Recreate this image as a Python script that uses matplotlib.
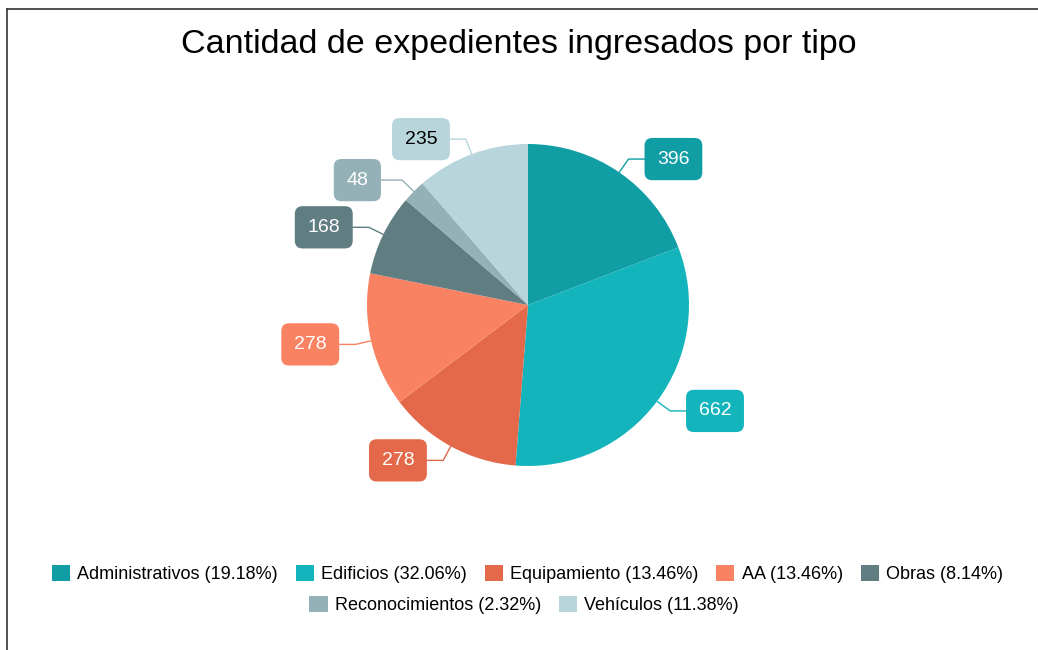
import numpy as np
import matplotlib.pyplot as plt
from matplotlib.patches import Patch
from matplotlib.lines import Line2D

plt.rcParams['font.family'] = ['Liberation Sans', 'DejaVu Sans']

categories = ['Administrativos', 'Edificios', 'Equipamiento', 'AA', 'Obras',
              'Reconocimientos', 'Vehículos']
values = [396, 662, 278, 278, 168, 48, 235]
percent_labels = ['19.18%', '32.06%', '13.46%', '13.46%', '8.14%', '2.32%', '11.38%']
colors = ['#119DA4', '#13B4BC', '#E4694A', '#F98262', '#607D82', '#93B1B6', '#B7D5DB']
text_colors = ['white', 'white', 'white', 'white', 'white', 'white', 'black']

W, H = 1038, 650
fig = plt.figure(figsize=(W / 100, H / 100), dpi=100)

# pie axes: center at (528, 305) px, radius 161 px
R = 161
cx, cy = 528, 305
half_w, half_h = 320, 210
ax = fig.add_axes([(cx - half_w) / W, (H - cy - half_h) / H, 2 * half_w / W, 2 * half_h / H])

wedges, _ = ax.pie(values, colors=colors, startangle=90, counterclock=False,
                   radius=1.0, wedgeprops=dict(linewidth=0))
ax.set_xlim(-half_w / R, half_w / R)
ax.set_ylim(-half_h / R, half_h / R)
ax.set_aspect('equal')
ax.axis('off')

total = sum(values)
cum = 0
for i, v in enumerate(values):
    mid = 90 - (cum + v / 2) / total * 360
    cum += v
    a = np.deg2rad(mid)
    c, s = np.cos(a), np.sin(a)
    tx = c * 1.1 + np.sign(c) * 0.28
    ty = s * 1.1
    ax.annotate(str(v), xy=(c * 1.0, s * 1.0), xytext=(tx, ty),
                ha='center', va='center', fontsize=14, color=text_colors[i],
                bbox=dict(boxstyle='round,pad=0.65,rounding_size=0.4',
                          fc=colors[i], ec='none'),
                arrowprops=dict(arrowstyle='-', color=colors[i], lw=1.0,
                                shrinkA=0, shrinkB=0,
                                connectionstyle='angle,angleA=0,angleB=%d,rad=0' % int(mid)))

fig.text(0.5, 1 - 44 / H, 'Cantidad de expedientes ingresados por tipo',
         ha='center', va='center', fontsize=24.5)

handles = [Patch(facecolor=colors[i], edgecolor='none',
                 label=f'{categories[i]} ({percent_labels[i]})') for i in range(len(categories))]
leg1 = fig.legend(handles=handles[:5], loc='center', bbox_to_anchor=(0.508, 1 - 574 / H),
                  ncol=5, frameon=False, fontsize=13, handlelength=1.0, handleheight=1.0,
                  handletextpad=0.4, columnspacing=1.0)
leg2 = fig.legend(handles=handles[5:], loc='center', bbox_to_anchor=(0.505, 1 - 605 / H),
                  ncol=2, frameon=False, fontsize=13, handlelength=1.0, handleheight=1.0,
                  handletextpad=0.4, columnspacing=1.0)

# border lines (top and left)
fig.add_artist(Line2D([7 / W, 1], [1 - 9 / H, 1 - 9 / H], color='#333333', lw=1.2,
                      transform=fig.transFigure))
fig.add_artist(Line2D([7 / W, 7 / W], [0, 1 - 9 / H], color='#333333', lw=1.2,
                      transform=fig.transFigure))

fig.savefig('out.png', dpi=100, facecolor='white')
